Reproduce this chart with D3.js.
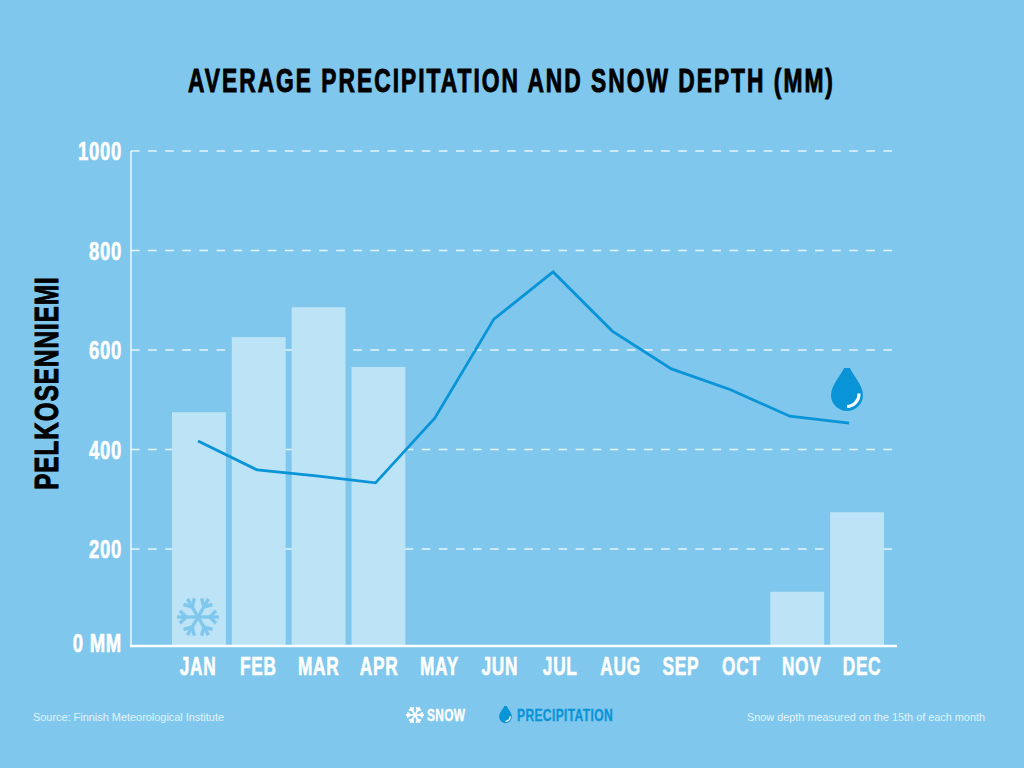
<!DOCTYPE html>
<html><head><meta charset="utf-8">
<script src="https://cdnjs.cloudflare.com/ajax/libs/d3/7.8.5/d3.min.js"></script>
<style>
html,body{margin:0;padding:0;background:#7fc7ec;}
svg{display:block;}
.cond{font-family:"Liberation Sans",sans-serif;font-weight:700;}
</style></head><body>
<svg id="c" width="1024" height="768"></svg>
<script>
const months=["JAN","FEB","MAR","APR","MAY","JUN","JUL","AUG","SEP","OCT","NOV","DEC"];
const snow=[475,626,686,566,0,0,0,0,0,0,114,274];
const precipitation=[417,359,347,333,463,662,757,638,562,520,467,453];
const yTicks=[0,200,400,600,800,1000];
const tickLabels=["0 MM","200","400","600","800","1000"];
const BG="#7fc7ec",BAR="#bde3f6",BLUE="#0a94d8";

const svg=d3.select("#c");
svg.append("rect").attr("width",1024).attr("height",768).attr("fill",BG);
const x=d3.scaleBand().domain(months).range([169,887]).paddingInner(0.1).paddingOuter(0.05);
const xLine=d3.scalePoint().domain(months).range([198,849]);
const xLabel=d3.scalePoint().domain(months).range([198,862]);
const y=d3.scaleLinear().domain([0,1000]).range([648.5,151]);
const baseY=646;

// condensed look: real text, tracked, then horizontally squeezed to a factor of its natural width
function squeeze(sel,k,sw,col,ls){
  sel.attr("class","cond").attr("lengthAdjust","spacingAndGlyphs").attr("letter-spacing",ls)
     .attr("stroke",col).attr("stroke-width",sw).attr("fill",col);
  sel.each(function(){this.setAttribute("textLength",this.getComputedTextLength()*k);});
  return sel;
}

// title
svg.append("text").attr("class","cond").attr("transform","translate(511.5,92) scale(0.67,1)").attr("text-anchor","middle")
 .attr("font-size",34).attr("letter-spacing",3).attr("fill","#000").attr("stroke","#000").attr("stroke-width",1)
 .text("AVERAGE PRECIPITATION AND SNOW DEPTH (MM)");

// grid
svg.append("g").selectAll("line").data(yTicks.filter(d=>d>0)).join("line")
 .attr("x1",131).attr("x2",892).attr("y1",d=>y(d)).attr("y2",d=>y(d))
 .attr("stroke","#e6f5fc").attr("stroke-width",1.5).attr("stroke-dasharray","8.6 8.5");

// bars
svg.append("g").selectAll("rect").data(months.map((m,i)=>({m,v:snow[i]})).filter(d=>d.v>0)).join("rect")
 .attr("x",d=>x(d.m)).attr("width",x.bandwidth()).attr("y",d=>y(d.v)).attr("height",d=>baseY-y(d.v)).attr("fill",BAR);

// axes lines
svg.append("line").attr("x1",131).attr("x2",131).attr("y1",y(1000)).attr("y2",baseY).attr("stroke","#fff").attr("stroke-width",1.3);
svg.append("line").attr("x1",130).attr("x2",897).attr("y1",baseY).attr("y2",baseY).attr("stroke","#fff").attr("stroke-width",2.6);

// y labels
squeeze(svg.append("g").selectAll("text").data(yTicks).join("text")
 .attr("x",122).attr("y",d=>Math.min(y(d)+9,652)).attr("text-anchor","end").attr("font-size",25)
 .text((d,i)=>tickLabels[i]),0.74,0.6,"#fff",1);

// x labels
squeeze(svg.append("g").selectAll("text").data(months).join("text")
 .attr("x",d=>xLabel(d)).attr("y",675).attr("text-anchor","middle").attr("font-size",25)
 .text(d=>d),0.69,0.6,"#fff",1);

// y title
squeeze(svg.append("text").attr("transform","translate(58,383) rotate(-90)").attr("text-anchor","middle")
 .attr("font-size",33).text("PELKOSENNIEMI"),0.73,1,"#000",1.5);

// line
const line=d3.line().x((d,i)=>xLine(months[i])).y(d=>y(d));
svg.append("path").datum(precipitation).attr("d",line).attr("fill","none").attr("stroke",BLUE).attr("stroke-width",2.8);

// icons
function flake(cx,cy,r,color,sw){
  const g=svg.append("g").attr("transform",`translate(${cx},${cy})`).attr("stroke",color).attr("stroke-width",sw).attr("fill","none");
  d3.range(6).forEach(i=>{
    const a=g.append("g").attr("transform",`rotate(${i*60+30})`);
    a.append("path").attr("d",`M0 0V${-r}`);
    a.append("path").attr("d",`M${-r*0.3} ${-r*0.86}L0 ${-r*0.56}L${r*0.3} ${-r*0.86}`);
  });
}
function drop(cx,top,s,color){
  const g=svg.append("g").attr("transform",`translate(${cx},${top}) scale(${s})`);
  g.append("path").attr("d","M-3 0H3C5 6 16 17 16 27A16 16 0 0 1 -16 27C-16 17 -5 6 -3 0Z").attr("fill",color);
  g.append("path").attr("d","M12 25.5A12.5 12.5 0 0 1 0 38.5").attr("fill","none").attr("stroke","#fff").attr("stroke-width",3.2);
}
flake(198,617,21,BG,3.4);
drop(847,368,1,BLUE);
flake(415,715,9,"#fff",1.8);
drop(505.5,706,0.4,BLUE);

// legend
squeeze(svg.append("text").attr("x",427).attr("y",721).attr("font-size",16.5).text("SNOW"),0.72,0.35,"#fff",0.5);
squeeze(svg.append("text").attr("x",517).attr("y",721).attr("font-size",16.5).text("PRECIPITATION"),0.73,0.35,BLUE,0.5);

// footers
svg.append("text").attr("x",33).attr("y",721).attr("font-family","Liberation Sans").attr("font-size",11).attr("fill","#e3f3fb").attr("textLength",191).attr("lengthAdjust","spacingAndGlyphs").text("Source: Finnish Meteorological Institute");
svg.append("text").attr("x",747).attr("y",721).attr("font-family","Liberation Sans").attr("font-size",11).attr("fill","#e3f3fb").attr("textLength",238).attr("lengthAdjust","spacingAndGlyphs").text("Snow depth measured on the 15th of each month");
</script></body></html>
